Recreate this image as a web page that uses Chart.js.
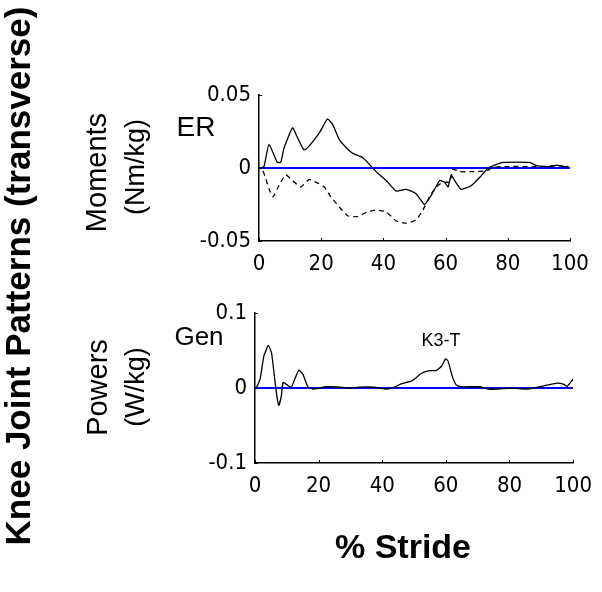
<!DOCTYPE html>
<html>
<head>
<meta charset="utf-8">
<script src="https://cdn.jsdelivr.net/npm/chart.js@4.4.1/dist/chart.umd.min.js"></script>
<style>
  html, body { margin:0; padding:0; background:#fff; }
  #wrap { position:relative; width:602px; height:592px; overflow:hidden; background:#fff; }
  canvas { position:absolute; left:0; }
  .lbl { position:absolute; white-space:nowrap; text-align:center; font-family:'Liberation Sans', Arial, sans-serif; color:#000; }
  .rot { transform:rotate(-90deg); }
</style>
</head>
<body>
<div id="wrap">
  <canvas id="c1" width="602" height="292" style="top:0px"></canvas>
  <canvas id="c2" width="602" height="300" style="top:292px"></canvas>
</div>
<script>
// ---------------- DATA ----------------
const strideTicks = [0, 20, 40, 60, 80, 100];
const momentTicks = [-0.05, 0, 0.05];
const momentTickLabels = ['-0.05', '0', '0.05'];
const powerTicks = [-0.1, 0, 0.1];
const powerTickLabels = ['-0.1', '0', '0.1'];

// Moments, solid curve
const momSolidStride = [0.5,1.6,3.2,5.9,7,8.1,10.8,12.4,14.5,16.1,19.4,22,23.7,25.8,28,30.1,33.3,36.6,38.2,40.9,44.1,47.3,50.5,53.2,55.4,58.1,59.7,60.8,61.8,62.9,65,68.3,71.5,73.7,75.8,78.5,87.1,89.2,93.5,95.7,97.8,99.5];
const momSolid = [0,0.001,0.0162,0.0038,0.004,0.014,0.0275,0.0207,0.0124,0.015,0.024,0.0336,0.0297,0.0196,0.014,0.0101,0.0072,0,-0.0036,-0.0086,-0.0158,-0.0146,-0.0176,-0.025,-0.0187,-0.0086,-0.0097,-0.013,-0.005,-0.0086,-0.0146,-0.012,-0.0052,0,0.002,0.0038,0.0038,0.0016,0.001,0.002,0.001,0.001];

// Moments, dashed curve
const momDashStride = [1.3,2.2,3.2,4.5,5.9,7,8.6,10.8,13.4,16.1,18.3,21,23.1,25.8,28.5,31.7,34.9,37.6,40.9,44.1,47.3,50.5,52.7,54.8,57,59.1,61.3,62.4,64.5,68.8,73.1,75.3,80,88,93,97,99.5];
const momDash = [-0.002,-0.0074,-0.0142,-0.0198,-0.0142,-0.0097,-0.0047,-0.0086,-0.013,-0.0079,-0.0097,-0.013,-0.0198,-0.0266,-0.0327,-0.0333,-0.03,-0.0288,-0.03,-0.0363,-0.0378,-0.0356,-0.0288,-0.0198,-0.013,-0.0097,-0.0097,-0.0007,-0.0025,-0.0025,-0.002,0.0005,0.001,0.001,0.0012,0.0015,0.001];

// Powers, generation curve
const powStride = [0.5,1.6,2.8,4.2,5.2,6.2,7,7.5,8.3,8.8,9.9,11.4,12.5,13.8,15.1,16.6,18.2,19.7,22.3,26.5,29.6,32.7,37.4,41.5,43.6,46.2,49.3,52.4,54.5,57.1,58.7,59.9,60.7,62,63.3,64.9,70.6,73.2,76.3,80.5,85.2,87.7,91.9,95,97.1,98.1,100];
const powGen = [0.001,0.012,0.043,0.057,0.047,0.012,-0.0145,-0.023,-0.01,0.0075,0.005,0.001,0.012,0.024,0.018,0.002,-0.0013,-0.0005,0.0018,0.0013,0,0.0013,0.0013,-0.0013,0.001,0.006,0.0097,0.0198,0.023,0.0238,0.0295,0.039,0.036,0.016,0.004,0.0018,0.0018,-0.0013,-0.0013,0,-0.0013,0,0.004,0.0066,0.005,0.002,0.012];

// ---------------- HELPERS ----------------
const pts = (xs, ys) => xs.map((x, i) => ({x: x, y: ys[i]}));
const zeroLine = [{x: strideTicks[0], y: 0}, {x: strideTicks[strideTicks.length - 1], y: 0}];
const tickFont = {family: "'Liberation Sans Narrow', 'DejaVu Sans Condensed', 'Liberation Sans', sans-serif", size: 22};

const inwardTicks = {
  id: 'inwardTicks',
  afterDraw(chart) {
    const ctx = chart.ctx, xs = chart.scales.x, ys = chart.scales.y, a = chart.chartArea;
    ctx.save();
    ctx.strokeStyle = '#000';
    ctx.lineWidth = 1;
    xs.ticks.forEach(t => {
      const px = Math.round(xs.getPixelForValue(t.value)) + 0.5;
      ctx.beginPath(); ctx.moveTo(px, a.bottom); ctx.lineTo(px, a.bottom - 3); ctx.stroke();
    });
    ys.ticks.forEach(t => {
      const py = Math.round(ys.getPixelForValue(t.value)) + 0.5;
      ctx.beginPath(); ctx.moveTo(a.left, py); ctx.lineTo(a.left + 3, py); ctx.stroke();
    });
    ctx.restore();
  }
};

function makeChart(id, datasets, yTicks, yLabels, yMin, yMax, yWidth, xHeight, pad) {
  return new Chart(document.getElementById(id), {
    type: 'line',
    data: {datasets: datasets},
    options: {
      responsive: false,
      animation: false,
      devicePixelRatio: 1,
      layout: {padding: pad},
      plugins: {legend: {display: false}, tooltip: {enabled: false}},
      elements: {point: {radius: 0}, line: {tension: 0.15}},
      scales: {
        x: {
          type: 'linear', min: 0, max: 100,
          afterBuildTicks: s => { s.ticks = strideTicks.map(v => ({value: v})); },
          afterFit: s => { s.height = xHeight; },
          grid: {display: true, drawOnChartArea: false, drawTicks: false},
          border: {display: true, color: '#000', width: 1.5},
          ticks: {color: '#000', font: tickFont, padding: 10, maxRotation: 0, autoSkip: false,
                  callback: v => String(v)}
        },
        y: {
          type: 'linear', min: yMin, max: yMax,
          afterBuildTicks: s => { s.ticks = yTicks.map(v => ({value: v})); },
          afterFit: s => { s.width = yWidth; },
          grid: {display: true, drawOnChartArea: false, drawTicks: false},
          border: {display: true, color: '#000', width: 1.5},
          ticks: {color: '#000', font: tickFont, padding: 8, autoSkip: false,
                  callback: (v) => yLabels[yTicks.findIndex(t => Math.abs(t - v) < 1e-9)]}
        }
      }
    },
    plugins: [inwardTicks]
  });
}

makeChart('c1', [
  {data: zeroLine, borderColor: '#0000ff', borderWidth: 2, order: 3},
  {data: pts(momDashStride, momDash), borderColor: '#000', borderWidth: 1.3, borderDash: [5, 4], order: 2},
  {data: pts(momSolidStride, momSolid), borderColor: '#000', borderWidth: 1.3, order: 1}
], momentTicks, momentTickLabels, -0.05, 0.05, 259, 51, {top: 95, right: 32, left: 0, bottom: 0});

makeChart('c2', [
  {data: zeroLine, borderColor: '#0000ff', borderWidth: 2, order: 2},
  {data: pts(powStride, powGen), borderColor: '#000', borderWidth: 1.3, order: 1}
], powerTicks, powerTickLabels, -0.1, 0.1, 255, 129, {top: 21, right: 26, left: 0, bottom: 0});

// ---------------- TEXT ----------------
const wrap = document.getElementById('wrap');
function addText(txt, cx, cy, size, bold, rotate) {
  const d = document.createElement('div');
  d.className = 'lbl' + (rotate ? ' rot' : '');
  const w = 700, h = Math.round(size * 1.2);
  d.style.width = w + 'px'; d.style.height = h + 'px'; d.style.lineHeight = h + 'px';
  d.style.left = (cx - w / 2) + 'px'; d.style.top = (cy - h / 2) + 'px';
  d.style.fontSize = size + 'px'; d.style.fontWeight = bold ? 'bold' : 'normal';
  d.textContent = txt;
  wrap.appendChild(d);
}
addText('Knee Joint Patterns (transverse)', 18, 276, 35, true, true);
addText('Moments', 96, 172, 29, false, true);
addText('(Nm/kg)', 135, 167, 27, false, true);
addText('ER', 196, 127, 28, false, false);
addText('Powers', 97, 387, 29, false, true);
addText('(W/kg)', 135, 387, 27, false, true);
addText('Gen', 199, 336, 26, false, false);
addText('K3-T', 441, 340, 18, false, false);
addText('% Stride', 403, 546, 34, true, false);
</script>
</body>
</html>
